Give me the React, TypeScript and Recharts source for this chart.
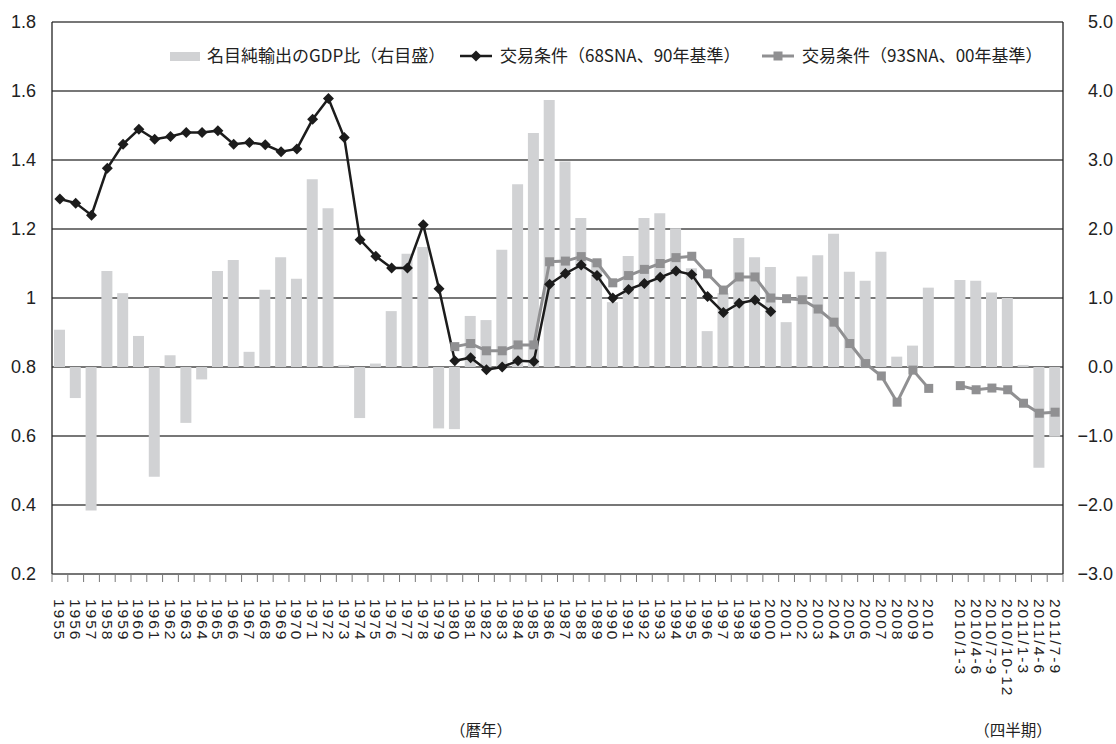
import React from 'react';
import {
  ComposedChart,
  Bar,
  Line,
  XAxis,
  YAxis,
  CartesianGrid,
} from 'recharts';

// 暦年（1955〜2010）と四半期（2010/1-3〜2011/7-9）
const YEARS = [
  '1955', '1956', '1957', '1958', '1959', '1960', '1961', '1962', '1963', '1964',
  '1965', '1966', '1967', '1968', '1969', '1970', '1971', '1972', '1973', '1974',
  '1975', '1976', '1977', '1978', '1979', '1980', '1981', '1982', '1983', '1984',
  '1985', '1986', '1987', '1988', '1989', '1990', '1991', '1992', '1993', '1994',
  '1995', '1996', '1997', '1998', '1999', '2000', '2001', '2002', '2003', '2004',
  '2005', '2006', '2007', '2008', '2009', '2010',
];
const QUARTERS = ['2010/1-3', '2010/4-6', '2010/7-9', '2010/10-12', '2011/1-3', '2011/4-6', '2011/7-9'];

// 名目純輸出のGDP比（%、右目盛）
const NET_EXPORTS_ANNUAL = [
  0.54, -0.45, -2.08, 1.39, 1.07, 0.45, -1.59, 0.17, -0.81, -0.18,
  1.39, 1.55, 0.22, 1.12, 1.59, 1.28, 2.72, 2.30, 0.03, -0.74,
  0.05, 0.81, 1.64, 1.74, -0.89, -0.90, 0.74, 0.68, 1.70, 2.65,
  3.39, 3.87, 2.98, 2.16, 1.55, 0.94, 1.61, 2.16, 2.23, 2.01,
  1.43, 0.52, 1.07, 1.87, 1.59, 1.45, 0.65, 1.31, 1.62, 1.93,
  1.38, 1.25, 1.67, 0.15, 0.31, 1.15,
];
const NET_EXPORTS_QUARTERLY = [1.26, 1.25, 1.08, 1.00, 0.03, -1.46, -1.01];

// 交易条件（68SNA、90年基準）1955〜2000
const TOT_68SNA = [
  1.287, 1.275, 1.240, 1.376, 1.446, 1.489, 1.460, 1.468, 1.480, 1.480,
  1.485, 1.446, 1.451, 1.444, 1.424, 1.432, 1.518, 1.578, 1.465, 1.169,
  1.121, 1.087, 1.087, 1.212, 1.027, 0.818, 0.827, 0.792, 0.800, 0.818,
  0.816, 1.040, 1.071, 1.096, 1.065, 1.000, 1.025, 1.042, 1.060, 1.078,
  1.068, 1.004, 0.958, 0.985, 0.994, 0.961,
];

// 交易条件（93SNA、00年基準）1980〜2010 と四半期
const TOT_93SNA_FIRST_YEAR = '1980';
const TOT_93SNA_ANNUAL = [
  0.859, 0.868, 0.847, 0.847, 0.864, 0.864, 1.105, 1.107, 1.120, 1.102,
  1.044, 1.065, 1.083, 1.100, 1.117, 1.121, 1.070, 1.023, 1.061, 1.061,
  1.000, 0.998, 0.995, 0.968, 0.930, 0.868, 0.810, 0.774, 0.698, 0.791,
  0.738,
];
const TOT_93SNA_QUARTERLY = [0.746, 0.734, 0.739, 0.734, 0.695, 0.666, 0.669];

const LEFT_TICKS = [0.2, 0.4, 0.6, 0.8, 1.0, 1.2, 1.4, 1.6, 1.8];
const RIGHT_TICKS = [-3, -2, -1, 0, 1, 2, 3, 4, 5];

const LEGEND_LABELS = ['名目純輸出のGDP比（右目盛）', '交易条件（68SNA、90年基準）', '交易条件（93SNA、00年基準）'];

const start93 = YEARS.indexOf(TOT_93SNA_FIRST_YEAR);

const rows = [
  ...YEARS.map((label, i) => ({
    label,
    net: NET_EXPORTS_ANNUAL[i],
    sna68: i < TOT_68SNA.length ? TOT_68SNA[i] : null,
    sna93: i >= start93 ? TOT_93SNA_ANNUAL[i - start93] : null,
  })),
  { label: '', net: null, sna68: null, sna93: null },
  ...QUARTERS.map((label, i) => ({
    label,
    net: NET_EXPORTS_QUARTERLY[i],
    sna68: null,
    sna93: TOT_93SNA_QUARTERLY[i],
  })),
];

const W = 1116;
const H = 744;
const LEFT_W = 52;
const RIGHT_W = 53;
const BAND = (W - LEFT_W - RIGHT_W) / rows.length;

const FONT = '"Liberation Sans", "Noto Sans CJK JP", sans-serif';
const JP_FONT = '"Noto Sans CJK JP", "Liberation Sans", sans-serif';
const BAR_FILL = '#d1d2d4';
const DARK = '#1c1c1c';
const GRAY = '#909092';
const TEXT = '#222';

const Diamond = (props: any) => {
  const { cx, cy, value } = props;
  if (value == null || cx == null || cy == null) return null;
  const r = 5.5;
  return <polygon points={`${cx},${cy - r} ${cx + r},${cy} ${cx},${cy + r} ${cx - r},${cy}`} fill={DARK} />;
};

const Square = (props: any) => {
  const { cx, cy, value } = props;
  if (value == null || cx == null || cy == null) return null;
  const s = 4.5;
  return <rect x={cx - s} y={cy - s} width={s * 2} height={s * 2} fill={GRAY} />;
};

// 区切り目盛りと縦書きのラベル
const XTick = (props: any) => {
  const { x, y, payload, index } = props;
  const ty = y + 25;
  return (
    <g>
      <line x1={x - BAND / 2} y1={y} x2={x - BAND / 2} y2={y + 8} stroke="#777" strokeWidth={1} />
      {index === rows.length - 1 && (
        <line x1={x + BAND / 2} y1={y} x2={x + BAND / 2} y2={y + 8} stroke="#777" strokeWidth={1} />
      )}
      <text
        x={x}
        y={ty}
        dy="0.35em"
        transform={`rotate(90, ${x}, ${ty})`}
        textAnchor="start"
        fontSize={15.5}
        letterSpacing={2}
        fill={TEXT}
        fontFamily={FONT}
      >
        {payload.value}
      </text>
    </g>
  );
};

const RightTick = (props: any) => {
  const { x, y, payload } = props;
  const v = Number(payload.value);
  const txt = (v < 0 ? '\u2212' : '') + Math.abs(v).toFixed(1);
  return (
    <text x={x + 50} y={y} dy="0.35em" textAnchor="end" fontSize={18} fill={TEXT} fontFamily={FONT}>
      {txt}
    </text>
  );
};

const formatLeft = (v: number) => (v === 1 ? '1' : v.toFixed(1));

const legendText: React.CSSProperties = {
  position: 'absolute',
  top: 44,
  fontSize: 17,
  lineHeight: '22px',
  color: TEXT,
  fontFamily: JP_FONT,
  whiteSpace: 'nowrap',
};

const caption: React.CSSProperties = {
  position: 'absolute',
  top: 719,
  height: 20,
  lineHeight: '20px',
  textAlign: 'center',
  fontSize: 15.5,
  fontFamily: JP_FONT,
  color: TEXT,
  whiteSpace: 'nowrap',
};

const App: React.FC = () => {
  return (
    <div style={{ position: 'absolute', left: 0, top: 0, width: W, height: H, background: '#fff', overflow: 'hidden' }}>
      <ComposedChart
        width={W}
        height={H}
        data={rows}
        margin={{ top: 22, right: 0, bottom: 10, left: 0 }}
        style={{ fontFamily: FONT }}
      >
        <XAxis
          dataKey="label"
          xAxisId={0}
          height={160}
          interval={0}
          tickLine={false}
          tickSize={0}
          tickMargin={0}
          axisLine={{ stroke: '#777', strokeWidth: 1.2 }}
          tick={<XTick />}
        />
        <YAxis
          yAxisId="left"
          orientation="left"
          width={LEFT_W}
          domain={[0.2, 1.8]}
          ticks={LEFT_TICKS}
          tickFormatter={formatLeft}
          tickLine={false}
          tickSize={0}
          tickMargin={16}
          axisLine={{ stroke: '#222', strokeWidth: 1.3 }}
          tick={{ fontSize: 18, fill: TEXT }}
        />
        <YAxis
          yAxisId="right"
          orientation="right"
          width={RIGHT_W}
          domain={[-3, 5]}
          ticks={RIGHT_TICKS}
          tickLine={false}
          tickSize={0}
          tickMargin={0}
          axisLine={{ stroke: '#222', strokeWidth: 1.3 }}
          tick={<RightTick />}
        />
        <Bar yAxisId="right" dataKey="net" fill={BAR_FILL} barSize={11} isAnimationActive={false} />
        <CartesianGrid yAxisId="left" vertical={false} stroke="#4a4a4a" strokeWidth={1.3} />
        <Line
          yAxisId="left"
          dataKey="sna93"
          stroke={GRAY}
          strokeWidth={3}
          dot={<Square />}
          activeDot={false}
          connectNulls={false}
          isAnimationActive={false}
        />
        <Line
          yAxisId="left"
          dataKey="sna68"
          stroke={DARK}
          strokeWidth={2.5}
          dot={<Diamond />}
          activeDot={false}
          connectNulls={false}
          isAnimationActive={false}
        />
      </ComposedChart>

      {/* 凡例 */}
      <svg style={{ position: 'absolute', left: 170, top: 50 }} width={30} height={12}>
        <rect x={0} y={2} width={30} height={9} fill={BAR_FILL} />
      </svg>
      <div style={{ ...legendText, left: 207 }}>{LEGEND_LABELS[0]}</div>
      <svg style={{ position: 'absolute', left: 460, top: 49 }} width={32} height={14}>
        <line x1={0} y1={7} x2={32} y2={7} stroke={DARK} strokeWidth={2.5} />
        <polygon points="16,1.5 21.5,7 16,12.5 10.5,7" fill={DARK} />
      </svg>
      <div style={{ ...legendText, left: 500 }}>{LEGEND_LABELS[1]}</div>
      <svg style={{ position: 'absolute', left: 762, top: 49 }} width={32} height={14}>
        <line x1={0} y1={7} x2={32} y2={7} stroke={GRAY} strokeWidth={3} />
        <rect x={11.5} y={2.5} width={9} height={9} fill={GRAY} />
      </svg>
      <div style={{ ...legendText, left: 802 }}>{LEGEND_LABELS[2]}</div>

      {/* 横軸の区分 */}
      <div style={{ ...caption, left: 446, width: 70 }}>（暦年）</div>
      <div style={{ ...caption, left: 970, width: 86 }}>（四半期）</div>
    </div>
  );
};

export default App;
